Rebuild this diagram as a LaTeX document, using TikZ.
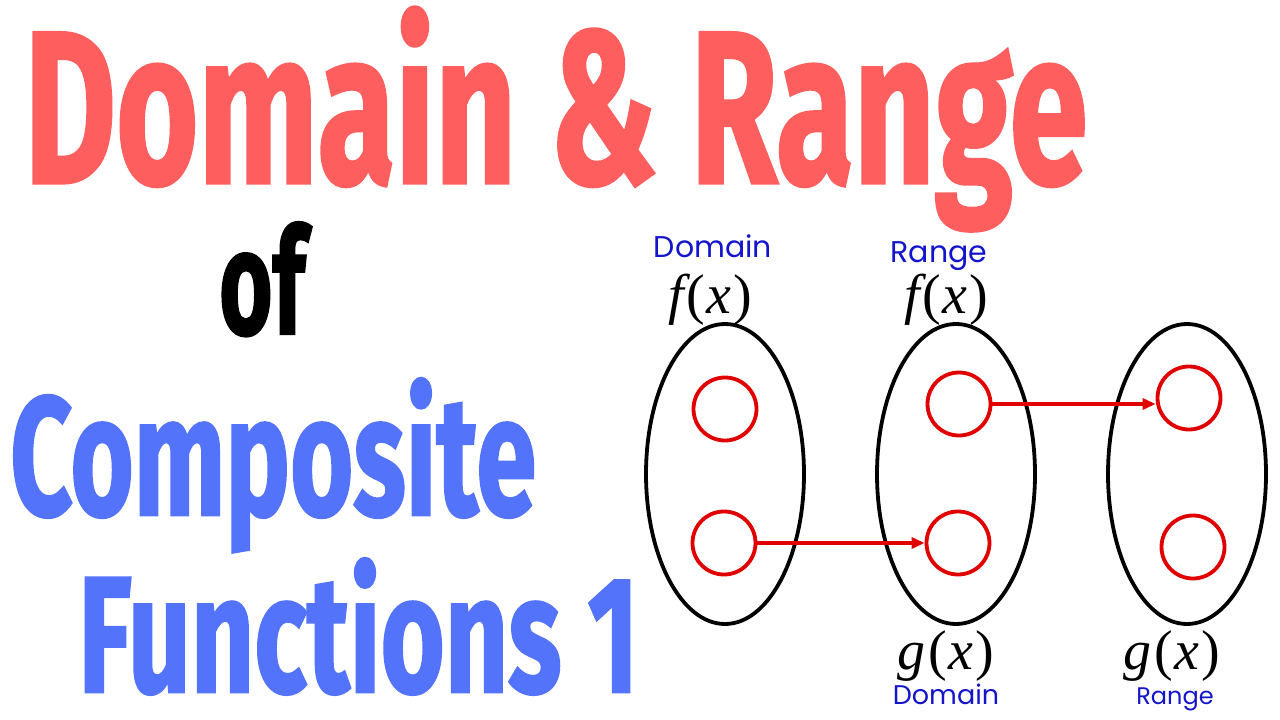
\documentclass[tikz,border=0pt]{standalone}
\usepackage{fontspec}
\usetikzlibrary{arrows.meta,shapes.geometric,calc}
\newfontfamily\titlefont{Fira Sans}[BoldFeatures={FakeBold=1.5}]
\newfontfamily\handfont{Poppins}
\newfontfamily\fxfont{Liberation Serif}
\definecolor{ctitle}{HTML}{FF5E5E}
\definecolor{csub}{HTML}{5273FA}
\definecolor{chand}{HTML}{1414CC}
\definecolor{cdot}{HTML}{E00000}
\tikzset{
  ttl/.style={anchor=base west, inner sep=0pt, font=\titlefont\bfseries},
  setbox/.style={ellipse, draw=black, line width=3.8pt, minimum width=158pt,
                 minimum height=300pt, inner sep=0pt},
  elem/.style={circle, draw=cdot, line width=3.8pt, minimum size=63pt, inner sep=0pt},
  fx/.style={anchor=base, inner sep=0pt, font=\fxfont\fontsize{56}{56}\selectfont},
  hand/.style={anchor=base, inner sep=0pt, text=chand, font=\handfont\fontsize{30}{30}\selectfont},
  flow/.style={-{Triangle[length=13pt, width=11pt]}, draw=cdot, line width=3.2pt},
}
\newcommand{\fofx}[1]{\itshape #1\kern3pt\upshape(\kern1pt\itshape x\kern2pt\upshape)}
\newcommand{\nodepth}[1]{\raisebox{0pt}[\height][0pt]{#1}}

\begin{document}
\begin{tikzpicture}[x=1pt, y=-1pt]
  \fill[white] (0,0) rectangle (1280,720);
  \useasboundingbox (0,0) rectangle (1280,720);
  % title
  \node[ttl, text=ctitle] (t1) at (24,183) {\nodepth{\resizebox{1062pt}{176pt}{Domain \& Range}}};
  \node[ttl, text=black] (t2) at (219,334) {\resizebox{86pt}{112pt}{of}};
  \node[ttl, text=csub] (t3) at (10,515) {\nodepth{\resizebox{526pt}{137pt}{Composite}}};
  \node[ttl, text=csub] (t4) at (78,692) {\resizebox{560pt}{134pt}{Functions 1}};
  % sets
  \node[setbox] (e1) at (725,474) {};
  \node[setbox] (e2) at (956,474) {};
  \node[setbox] (e3) at (1187,474) {};
  \node[elem] (c1a) at (725,409) {};
  \node[elem] (c1b) at (724,543) {};
  \node[elem] (c2a) at (959,404) {};
  \node[elem] (c2b) at (958,543) {};
  \node[elem] (c3a) at (1189,398) {};
  \node[elem] (c3b) at (1193,547) {};
  \foreach \a/\b in {c1b/c2b,c2a/c3a}
     \draw[flow] (\a.east) -- (\a.east -| \b.west);
  % labels
  \node[fx] (f1) at (710,313) {\fofx{f}};
  \node[fx] (f2) at (946,313) {\fofx{f}};
  \node[fx] (g2) at (946,669) {\fofx{g}};
  \node[fx] (g3) at (1172,669) {\fofx{g}};
  \node[hand] (h1) at (713,257) {Domain};
  \node[hand] (h2) at (939,262) {Range};
  \node[hand, font=\handfont\fontsize{27}{27}\selectfont] (h3) at (946,704) {Domain};
  \node[hand, font=\handfont\fontsize{24}{24}\selectfont] (h4) at (1175,704) {Range};
\end{tikzpicture}
\end{document}
